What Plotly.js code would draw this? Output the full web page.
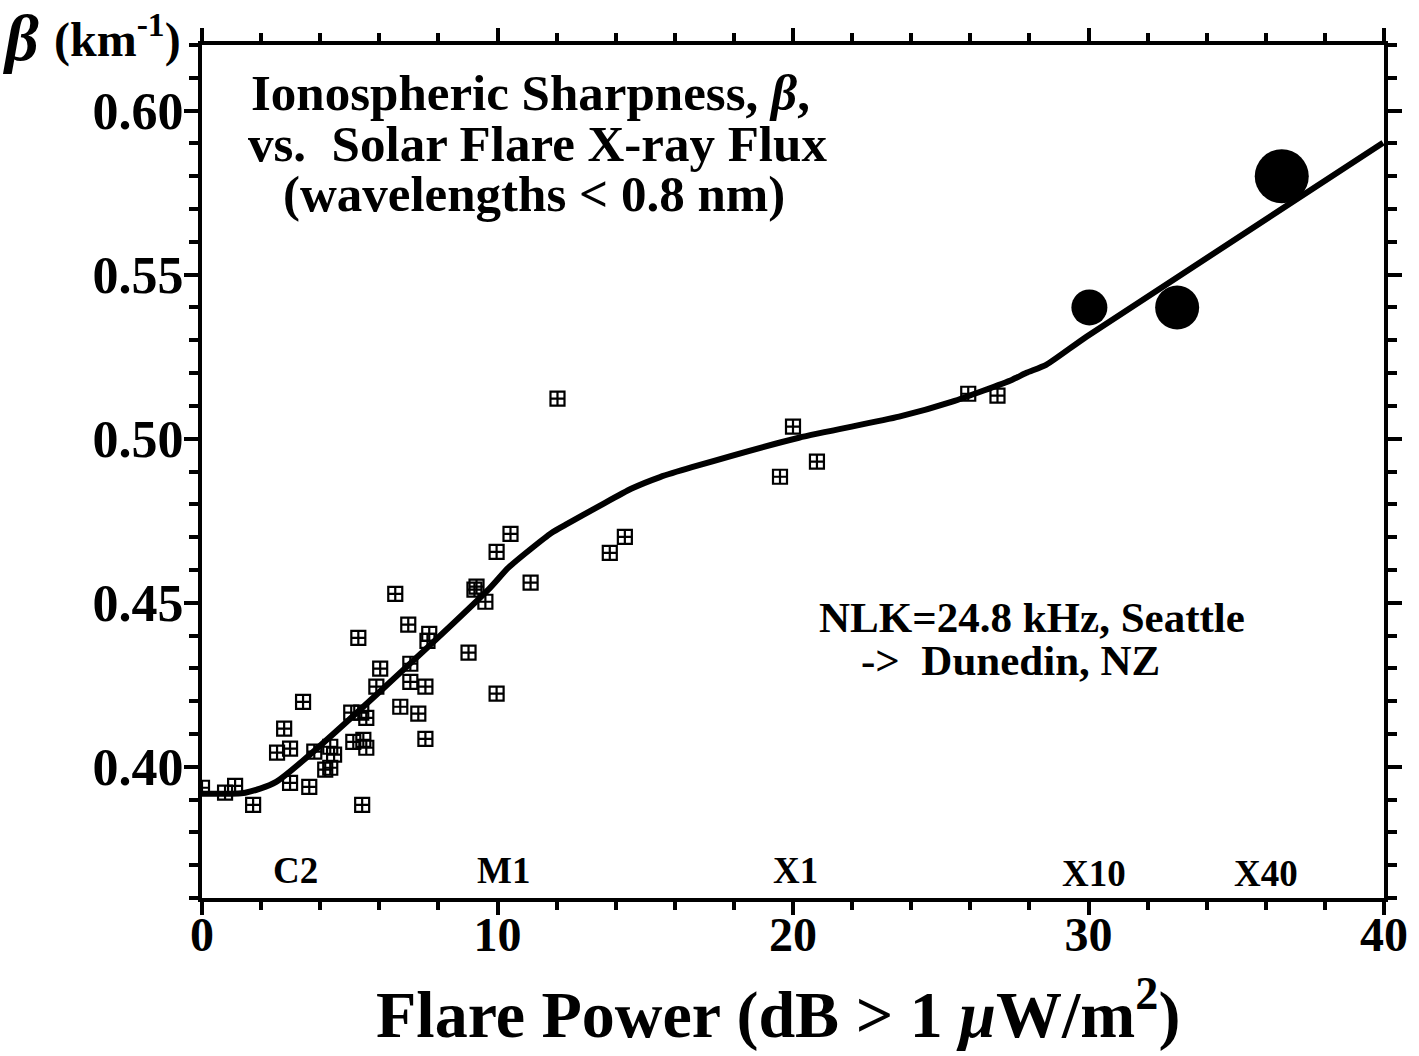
<!DOCTYPE html>
<html>
<head>
<meta charset="utf-8">
<script src="https://cdn.plot.ly/plotly-3.0.1.min.js"></script>
<style>
html,body{margin:0;padding:0;background:#fff;}
#chart{width:1419px;height:1056px;}
</style>
</head>
<body>
<div id="chart"></div>
<script>
// Measured flare events (NLK -> Dunedin), flare power in dB > 1 uW/m2 and beta in km^-1
var flareX = [0.0, 0.78, 1.12, 1.73, 2.78, 2.54, 2.98, 3.42, 2.98, 3.63, 3.80, 4.34, 4.47, 4.17, 4.34,
  5.29, 5.05, 5.39, 5.56, 5.12, 5.46, 5.56, 5.42, 6.03, 5.90, 6.54, 6.98, 7.05, 7.69, 7.63,
  7.05, 7.56, 6.71, 7.32, 7.56, 9.02, 9.29, 9.22, 9.59, 10.44, 9.97, 11.12, 9.97, 12.03,
  13.80, 14.31, 19.56, 20.00, 20.81, 25.93, 26.92];
var betaY = [0.3936, 0.3921, 0.3942, 0.3884, 0.4116, 0.4043, 0.4055, 0.4198, 0.3951, 0.3939, 0.4046, 0.4061, 0.4037, 0.3991, 0.3997,
  0.4393, 0.4165, 0.4165, 0.4149, 0.4076, 0.4082, 0.4058, 0.3884, 0.4299, 0.4244, 0.4527, 0.4433, 0.4314, 0.4405, 0.4384,
  0.4259, 0.4244, 0.4183, 0.4162, 0.4085, 0.4348, 0.4549, 0.4540, 0.4503, 0.4710, 0.4655, 0.4561, 0.4223, 0.5122,
  0.4652, 0.4701, 0.4884, 0.5037, 0.4930, 0.5137, 0.5131];

// Large flares (filled circles)
var bigX = [30.03, 33.0, 36.54];
var bigY = [0.540, 0.540, 0.580];
var bigSize = [36, 44, 54];

// Fitted curve
var fitX = [0, 1.46, 2.51, 9.69, 10.37, 11.83, 12.31, 13.47, 14.54, 15.50, 16.58, 20.20, 23.59, 25.39, 27.42, 27.90, 28.58, 29.93, 39.97];
var fitY = [0.3918, 0.3921, 0.3954, 0.4540, 0.4607, 0.4713, 0.4738, 0.4796, 0.4848, 0.4883, 0.4913, 0.5003, 0.5067, 0.5113, 0.5180, 0.5201, 0.5226, 0.5311, 0.5902];

// Flare class labels
var classLabels = ['C2', 'M1', 'X1', 'X10', 'X40'];
var classX = [3.15, 10.2, 20.1, 30.2, 36.0];
var classY = [0.3685, 0.3685, 0.3685, 0.3675, 0.3675];

var xTicks = [0, 10, 20, 30, 40];
var yTicks = [0.40, 0.45, 0.50, 0.55, 0.60];
var yTickText = ['0.40', '0.45', '0.50', '0.55', '0.60'];

var SERIF = '"Liberation Serif", "Times New Roman", serif';

var traces = [
  {
    x: flareX, y: betaY, type: 'scatter', mode: 'markers',
    marker: {symbol: 'square-cross-open', size: 14, color: '#000', opacity: 1, line: {width: 2.2, color: '#000'}},
    showlegend: false
  },
  {
    x: fitX, y: fitY, type: 'scatter', mode: 'lines',
    line: {color: '#000', width: 6, shape: 'spline', smoothing: 0.6}, showlegend: false
  },
  {
    x: bigX, y: bigY, type: 'scatter', mode: 'markers',
    marker: {symbol: 'circle', size: bigSize, color: '#000', opacity: 1, line: {width: 0}},
    showlegend: false
  }
];

var annotations = [];
for (var i = 0; i < classLabels.length; i++) {
  annotations.push({
    x: classX[i], y: classY[i], xref: 'x', yref: 'y', text: '<b>' + classLabels[i] + '</b>',
    showarrow: false, xanchor: 'center', yanchor: 'middle',
    font: {family: SERIF, size: 37, color: '#000'}
  });
}

function px2x(px) { return (px - 202) / 1182; }
function px2y(py) { return (898 - py) / 853; }

annotations = annotations.concat([
  {xref: 'paper', yref: 'paper', x: px2x(530), y: px2y(93), text: '<b>Ionospheric Sharpness, <i>β</i>,</b>',
   showarrow: false, xanchor: 'center', yanchor: 'middle', font: {family: SERIF, size: 51, color: '#000'}},
  {xref: 'paper', yref: 'paper', x: px2x(537), y: px2y(144), text: '<b>vs.  Solar Flare X-ray Flux</b>',
   showarrow: false, xanchor: 'center', yanchor: 'middle', font: {family: SERIF, size: 51, color: '#000'}},
  {xref: 'paper', yref: 'paper', x: px2x(534), y: px2y(194), text: '<b>(wavelengths < 0.8 nm)</b>',
   showarrow: false, xanchor: 'center', yanchor: 'middle', font: {family: SERIF, size: 51, color: '#000'}},
  {xref: 'paper', yref: 'paper', x: px2x(1032), y: px2y(617), text: '<b>NLK=24.8 kHz, Seattle</b>',
   showarrow: false, xanchor: 'center', yanchor: 'middle', font: {family: SERIF, size: 43, color: '#000'}},
  {xref: 'paper', yref: 'paper', x: px2x(1010), y: px2y(661), text: '<b>-&gt;  Dunedin, NZ</b>',
   showarrow: false, xanchor: 'center', yanchor: 'middle', font: {family: SERIF, size: 43, color: '#000'}},
  {xref: 'paper', yref: 'paper', x: px2x(0), y: px2y(38), text: '<b><i>β</i></b>',
   showarrow: false, xanchor: 'left', yanchor: 'middle', font: {family: SERIF, size: 66, color: '#000'}},
  {xref: 'paper', yref: 'paper', x: px2x(52), y: px2y(36), text: '<b>(km<sup>-1</sup>)</b>',
   showarrow: false, xanchor: 'left', yanchor: 'middle', font: {family: SERIF, size: 48, color: '#000'}},
  {xref: 'paper', yref: 'paper', x: px2x(778), y: px2y(1010), text: '<b>Flare Power (dB &gt; 1 <i>μ</i>W/m<sup>2</sup>)</b>',
   showarrow: false, xanchor: 'center', yanchor: 'middle', font: {family: SERIF, size: 66, color: '#000'}}
]);

var layout = {
  width: 1419, height: 1056,
  margin: {l: 202, r: 35, t: 45, b: 158, pad: 0},
  paper_bgcolor: '#fff', plot_bgcolor: '#fff',
  showlegend: false,
  xaxis: {
    range: [0, 40], tickvals: xTicks, ticktext: xTicks.map(String),
    ticks: 'outside', ticklen: 13, tickwidth: 4, tickcolor: '#000',
    showline: true, linewidth: 4, linecolor: '#000', mirror: 'allticks',
    showgrid: false, zeroline: false,
    minor: {dtick: 2, tick0: 0, ticks: 'outside', ticklen: 8, tickwidth: 4, tickcolor: '#000', showgrid: false},
    tickfont: {family: SERIF, size: 48, color: '#000', weight: 'bold'},
    ticklabelstandoff: -22
  },
  yaxis: {
    range: [0.36, 0.62], tickvals: yTicks, ticktext: yTickText,
    ticks: 'outside', ticklen: 14, tickwidth: 4, tickcolor: '#000',
    showline: true, linewidth: 4, linecolor: '#000', mirror: 'allticks',
    showgrid: false, zeroline: false,
    minor: {dtick: 0.01, tick0: 0.40, ticks: 'outside', ticklen: 9, tickwidth: 4, tickcolor: '#000', showgrid: false},
    tickfont: {family: SERIF, size: 52, color: '#000', weight: 'bold'},
    ticklabelstandoff: -10
  },
  annotations: annotations
};

Plotly.newPlot('chart', traces, layout, {displayModeBar: false, staticPlot: true});
</script>
</body>
</html>
